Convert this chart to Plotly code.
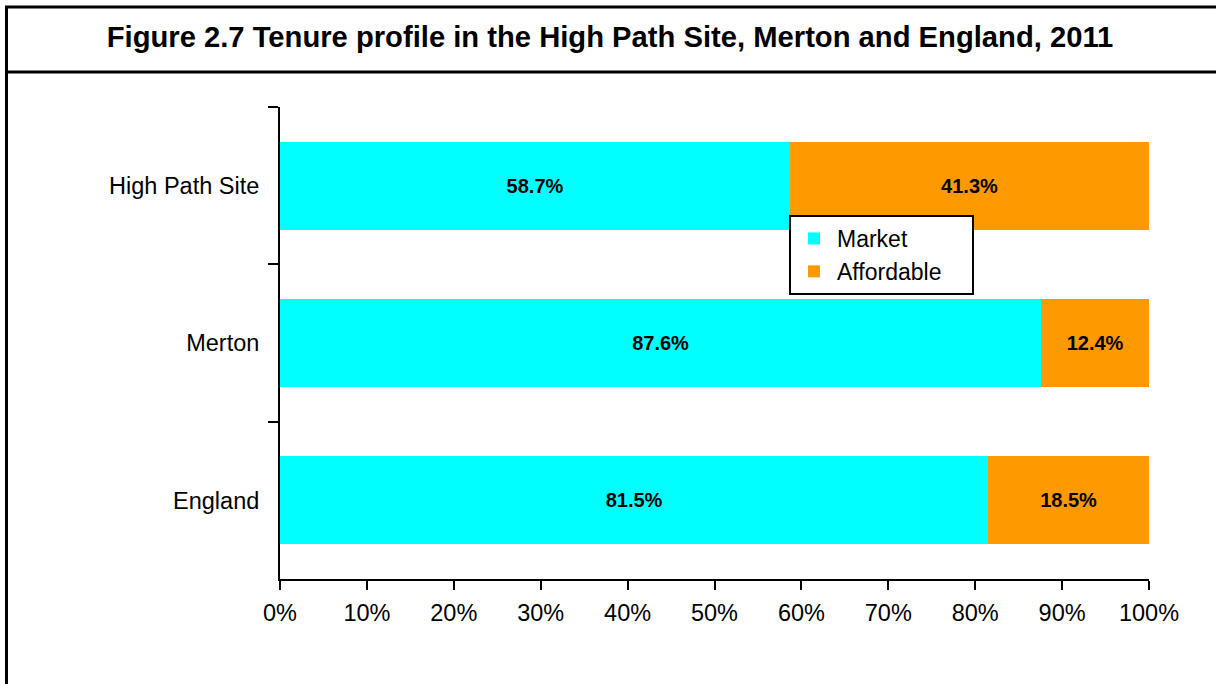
import plotly.graph_objects as go

categories = ["High Path Site", "Merton", "England"]
market = [58.7, 87.6, 81.5]
affordable = [41.3, 12.4, 18.5]
series_names = ["Market", "Affordable\u00a0\u00a0\u00a0\u00a0"]
colors = ["#00FFFF", "#FF9900"]
x_ticks = list(range(0, 101, 10))
x_tick_labels = [f"{v}%" for v in x_ticks]
title_text = "Figure 2.7 Tenure profile in the High Path Site, Merton and England, 2011"

FONT = "Liberation Sans, Arial, sans-serif"

fig = go.Figure()
for name, vals, col in zip(series_names, [market, affordable], colors):
    fig.add_trace(go.Bar(
        y=categories, x=vals, name=name, orientation="h",
        marker=dict(color=col, line=dict(width=0)),
        text=[f"<b>{v:.1f}%</b>" for v in vals],
        textposition="inside", insidetextanchor="middle",
        textfont=dict(family=FONT, size=20, color="black"),
        constraintext="none",
    ))

W, H = 1216, 684
L, R, T, B = 280, 1149, 107, 579

def px_x(p):
    return (p - L) / (R - L)

def px_y(p):
    return (B - p) / (B - T)

shapes = [
    dict(type="line", xref="paper", yref="paper", x0=px_x(5), x1=px_x(1300), y0=px_y(7), y1=px_y(7),
         line=dict(color="black", width=3), layer="above"),
    dict(type="line", xref="paper", yref="paper", x0=px_x(5), x1=px_x(1300), y0=px_y(72), y1=px_y(72),
         line=dict(color="black", width=3), layer="above"),
    dict(type="line", xref="paper", yref="paper", x0=px_x(6.5), x1=px_x(6.5), y0=px_y(7), y1=px_y(750),
         line=dict(color="black", width=3), layer="above"),
]

fig.update_layout(
    width=W, height=H,
    margin=dict(l=L, r=W - R, t=T, b=H - B),
    paper_bgcolor="white", plot_bgcolor="white",
    barmode="stack", bargap=0.44,
    font=dict(family=FONT, size=23.5, color="black"),
    title=dict(text=f"<b>{title_text}</b>", x=610 / W, xanchor="center", xref="container",
               y=1 - 37 / H, yanchor="middle", yref="container",
               font=dict(family=FONT, size=29.2, color="black")),
    shapes=shapes,
    showlegend=True,
    legend=dict(x=px_x(789), y=px_y(215), xanchor="left", yanchor="top",
                bordercolor="black", borderwidth=2, bgcolor="white",
                font=dict(family=FONT, size=23, color="black"),
                traceorder="normal", itemwidth=36, tracegroupgap=0),
    xaxis=dict(range=[0, 100], tickvals=x_ticks, ticktext=x_tick_labels,
               showline=True, linecolor="black", linewidth=2,
               ticks="outside", ticklen=9, tickwidth=2, tickcolor="black",
               showgrid=False, zeroline=False, fixedrange=True, ticklabelstandoff=3,
               tickfont=dict(family=FONT, size=23.5, color="black")),
    yaxis=dict(categoryorder="array", categoryarray=categories, autorange="reversed",
               showline=True, linecolor="black", linewidth=2,
               ticks="outside", ticklen=10, tickwidth=2, tickcolor="black",
               tickson="boundaries", showgrid=False, zeroline=False, ticklabelstandoff=14,
               fixedrange=True,
               tickfont=dict(family=FONT, size=23.5, color="black")),
)

fig.write_html("out.html", config={"displayModeBar": False},
               post_script="document.body.style.margin='0px';")
